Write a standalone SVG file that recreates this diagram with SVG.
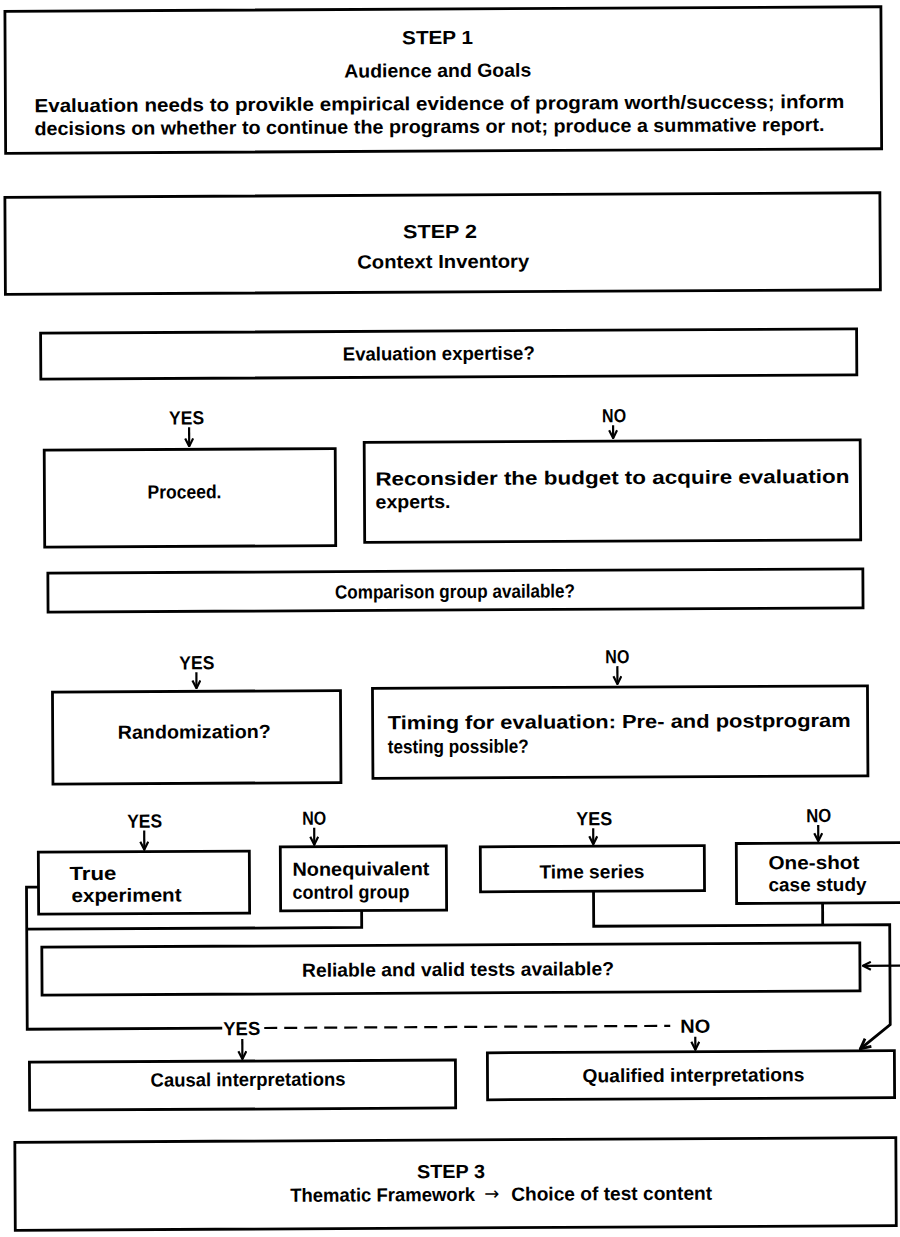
<svg xmlns="http://www.w3.org/2000/svg" width="900" height="1237" viewBox="0 0 900 1237">
<defs>
<style>
.box{fill:none;stroke:#000;stroke-width:2.8}
.t{font-family:"Liberation Sans",Arial,sans-serif;font-weight:bold;fill:#000;font-size:19px}
.arw{font-family:"DejaVu Sans",sans-serif;font-size:18px;fill:#000}
.ln{fill:none;stroke:#000;stroke-width:2.8}
.ar{fill:none;stroke:#000;stroke-width:2.2}
.dash{fill:none;stroke:#000;stroke-width:2.2;stroke-dasharray:13,7}
</style>
<marker id="v" viewBox="0 0 10 10" refX="9" refY="5" markerWidth="4.5" markerHeight="4.5" orient="auto" markerUnits="strokeWidth">
<path d="M1,1 L9,5 L1,9" fill="none" stroke="#000" stroke-width="2.2"/>
</marker>
</defs>
<g transform="rotate(-0.3 450 600)">

<g id="step1">
<rect class="box" x="8" y="9" width="876" height="142"/>
<text class="t" x="405" y="44" textLength="71" lengthAdjust="spacingAndGlyphs">STEP 1</text>
<text class="t" x="347" y="77" textLength="187" lengthAdjust="spacingAndGlyphs">Audience and Goals</text>
<text class="t" x="37" y="110" textLength="810" lengthAdjust="spacingAndGlyphs">Evaluation needs to provikle empirical evidence of program worth/success; inform</text>
<text class="t" x="37" y="133" textLength="790" lengthAdjust="spacingAndGlyphs">decisions on whether to continue the programs or not; produce a summative report.</text>
</g>

<g id="step2">
<rect class="box" x="7" y="195" width="875" height="97"/>
<text class="t" x="405" y="238" textLength="74" lengthAdjust="spacingAndGlyphs">STEP 2</text>
<text class="t" x="359" y="268" textLength="172" lengthAdjust="spacingAndGlyphs">Context Inventory</text>
</g>

<g id="expertise">
<rect class="box" x="42" y="331" width="816" height="46"/>
<text class="t" x="344" y="360" textLength="192" lengthAdjust="spacingAndGlyphs">Evaluation expertise?</text>
</g>

<g id="proceed">
<rect class="box" x="45" y="448" width="291" height="97"/>
<text class="t" x="148" y="497" textLength="74" lengthAdjust="spacingAndGlyphs">Proceed.</text>
</g>

<g id="reconsider">
<rect class="box" x="365" y="442" width="496" height="100"/>
<text class="t" x="376" y="485" textLength="474" lengthAdjust="spacingAndGlyphs">Reconsider the budget to acquire evaluation</text>
<text class="t" x="376" y="508" textLength="75" lengthAdjust="spacingAndGlyphs">experts.</text>
</g>

<g id="comparison">
<rect class="box" x="48" y="571" width="815" height="39"/>
<text class="t" x="335" y="598" textLength="240" lengthAdjust="spacingAndGlyphs">Comparison group available?</text>
</g>

<g id="randomization">
<rect class="box" x="52" y="690" width="288" height="92"/>
<text class="t" x="117" y="737" textLength="153" lengthAdjust="spacingAndGlyphs">Randomization?</text>
</g>

<g id="timing">
<rect class="box" x="372" y="688" width="495" height="90"/>
<text class="t" x="387" y="729" textLength="463" lengthAdjust="spacingAndGlyphs">Timing for evaluation: Pre- and postprogram</text>
<text class="t" x="387" y="753" textLength="141" lengthAdjust="spacingAndGlyphs">testing possible?</text>
</g>

<g id="trueexp">
<rect class="box" x="37" y="850" width="211" height="62"/>
<text class="t" x="68" y="878" textLength="47" lengthAdjust="spacingAndGlyphs">True</text>
<text class="t" x="70" y="900" textLength="110" lengthAdjust="spacingAndGlyphs">experiment</text>
</g>

<g id="nonequiv">
<rect class="box" x="279" y="846" width="166" height="64"/>
<text class="t" x="291" y="875" textLength="137" lengthAdjust="spacingAndGlyphs">Nonequivalent</text>
<text class="t" x="291" y="898" textLength="117" lengthAdjust="spacingAndGlyphs">control group</text>
</g>

<g id="timeseries">
<rect class="box" x="479" y="847" width="224" height="45"/>
<text class="t" x="538" y="879" textLength="105" lengthAdjust="spacingAndGlyphs">Time series</text>
</g>

<g id="oneshot">
<rect class="box" x="735" y="845" width="175" height="60"/>
<text class="t" x="767" y="871" textLength="91" lengthAdjust="spacingAndGlyphs">One-shot</text>
<text class="t" x="767" y="893" textLength="98" lengthAdjust="spacingAndGlyphs">case study</text>
</g>

<g id="reliable">
<rect class="box" x="40" y="945" width="818" height="48"/>
<text class="t" x="300" y="976" textLength="312" lengthAdjust="spacingAndGlyphs">Reliable and valid tests available?</text>
</g>

<g id="causal">
<rect class="box" x="27" y="1060" width="426" height="48"/>
<text class="t" x="148" y="1085" textLength="195" lengthAdjust="spacingAndGlyphs">Causal interpretations</text>
</g>

<g id="qualified">
<rect class="box" x="485" y="1053" width="407" height="47"/>
<text class="t" x="580" y="1083" textLength="222" lengthAdjust="spacingAndGlyphs">Qualified interpretations</text>
</g>

<g id="step3">
<rect class="box" x="12" y="1140" width="881" height="88"/>
<text class="t" x="414" y="1178" textLength="68" lengthAdjust="spacingAndGlyphs">STEP 3</text>
<text class="t" x="287" y="1201" textLength="185" lengthAdjust="spacingAndGlyphs">Thematic Framework</text>
<text class="arw" x="481" y="1200">→</text>
<text class="t" x="508" y="1201" textLength="201" lengthAdjust="spacingAndGlyphs">Choice of test content</text>
</g>

<g id="connectors">
<text class="t" x="170" y="423" textLength="35" lengthAdjust="spacingAndGlyphs">YES</text>
<path class="ar" d="M190,426 V445" marker-end="url(#v)"/>
<text class="t" x="603" y="423" textLength="24" lengthAdjust="spacingAndGlyphs">NO</text>
<path class="ar" d="M614,426 V439" marker-end="url(#v)"/>

<text class="t" x="179" y="668" textLength="35" lengthAdjust="spacingAndGlyphs">YES</text>
<path class="ar" d="M196,671 V687" marker-end="url(#v)"/>
<text class="t" x="605" y="664" textLength="24" lengthAdjust="spacingAndGlyphs">NO</text>
<path class="ar" d="M617,667 V685" marker-end="url(#v)"/>

<text class="t" x="126" y="826" textLength="35" lengthAdjust="spacingAndGlyphs">YES</text>
<path class="ar" d="M143,829 V848" marker-end="url(#v)"/>
<text class="t" x="301" y="824" textLength="24" lengthAdjust="spacingAndGlyphs">NO</text>
<path class="ar" d="M313,827 V844" marker-end="url(#v)"/>
<text class="t" x="575" y="826" textLength="36" lengthAdjust="spacingAndGlyphs">YES</text>
<path class="ar" d="M592,829 V845" marker-end="url(#v)"/>
<text class="t" x="805" y="824" textLength="25" lengthAdjust="spacingAndGlyphs">NO</text>
<path class="ar" d="M817,827 V843" marker-end="url(#v)"/>

<path class="ln" d="M37,885 H25 V1027 H220"/>
<path class="ln" d="M25,927 H360 V910"/>
<path class="ln" d="M592,892 V927 H888 V1027 L858,1051" marker-end="url(#v)"/>
<path class="ln" d="M821,905 V927"/>
<path class="ar" d="M902,968 H861" marker-end="url(#v)"/>

<text class="t" x="221" y="1034" textLength="37" lengthAdjust="spacingAndGlyphs">YES</text>
<path class="dash" d="M262,1027 H668"/>
<text class="t" x="678" y="1034" textLength="30" lengthAdjust="spacingAndGlyphs">NO</text>
<path class="ar" d="M240,1038 V1058" marker-end="url(#v)"/>
<path class="ar" d="M693,1038 V1051" marker-end="url(#v)"/>
</g>
</g>
</svg>
